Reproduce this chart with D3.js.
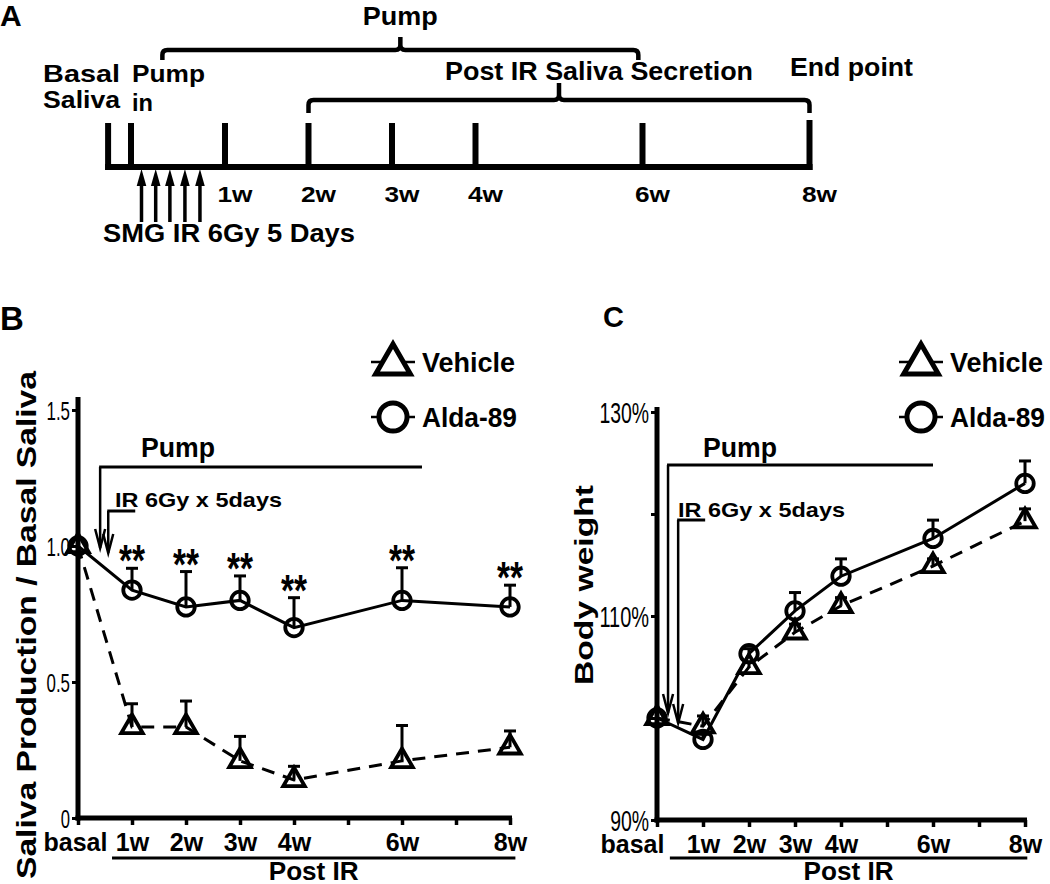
<!DOCTYPE html>
<html><head><meta charset="utf-8">
<script src="https://cdn.jsdelivr.net/npm/d3@7"></script>
<style>
body{margin:0;background:#fff}
svg text{font-family:"Liberation Sans",Arial,Helvetica,sans-serif;font-weight:bold;fill:#000}
svg text.narrow{font-family:"Liberation Sans Narrow","Arial Narrow","Liberation Sans",sans-serif;font-weight:normal}
</style></head><body>
<svg id="c" width="1050" height="884"></svg>
<script>
// ---------- data ----------
const weekLabels = ["basal","1w","2w","3w","4w","6w","8w"];
const weeks = [0,1,2,3,4,6,8];
const salivaVehicle    = [1.00,0.335,0.335,0.21,0.14,0.21,0.26];
const salivaVehicleErr = [0,0.085,0.095,0.09,0.05,0.13,0.06];
const salivaAlda       = [1.00,0.838,0.776,0.80,0.70,0.80,0.776];
const salivaAldaErr    = [0,0.08,0.13,0.09,0.11,0.12,0.08];
const salivaSig        = ["","**","**","**","**","**","**"];
const weightVehicle    = [100,99.2,105.0,108.4,111.0,114.9,119.3];
const weightVehicleErr = [0,1.0,0.5,0.8,0.8,0.7,1.2];
const weightAlda       = [100,97.9,106.3,110.5,113.9,117.6,123.0];
const weightAldaErr    = [0,0.5,0.5,1.8,1.7,1.8,2.2];
const salivaTicks = [0,0.5,1.0,1.5];
const salivaTickLabels = {0:"0",0.5:"0.5",1:"1.0",1.5:"1.5"};
const weightTicks = [90,100,110,120,130];
const weightTickLabels = {90:"90%",110:"110%",130:"130%"};
const seriesNames = ["Vehicle","Alda-89"];
// timeline (panel A), in weeks
const timelineEvents = [-0.4,-0.126,1,2,3,4,6,8];
const timelineLabels = ["","","1w","2w","3w","4w","6w","8w"];
const irDays = [0,0.17,0.34,0.52,0.7];

const svg = d3.select("#c");
function T(g, str, x, y, size, o={}) {
  const t = g.append("text").attr("x",x).attr("y",y).style("font-size",size+"px").text(str);
  if (o.anchor) t.attr("text-anchor",o.anchor);
  if (o.len) t.attr("textLength",o.len).attr("lengthAdjust","spacingAndGlyphs");
  if (o.transform) t.attr("transform",o.transform);
  if (o.cls) t.attr("class",o.cls);
  return t;
}
function L(g,x1,y1,x2,y2,w){return g.append("line").attr("x1",x1).attr("y1",y1).attr("x2",x2).attr("y2",y2).attr("stroke","#000").attr("stroke-width",w);}

// ---------- Panel A ----------
(function(){
  const g = svg.append("g");
  const xA = d3.scaleLinear().domain([0,1]).range([141.5,225]);
  const baseY = 167;
  T(g,"A",0,26,30);
  L(g, xA(timelineEvents[0])-3, baseY, xA(8)+3, baseY, 6);
  g.selectAll(".tk").data(timelineEvents).join("line")
    .attr("x1",d=>xA(d)).attr("x2",d=>xA(d))
    .attr("y1",d=>d===8?120:123).attr("y2",baseY+3)
    .attr("stroke","#000").attr("stroke-width",6);
  timelineEvents.forEach((d,i)=>{ if(timelineLabels[i]) T(g,timelineLabels[i],xA(d)+10,202,22,{anchor:"middle",len:35}); });
  // IR arrows
  irDays.forEach(d=>{
    const cx = xA(d);
    L(g,cx,222,cx,182,3.5);
    g.append("path").attr("d",`M${cx},169 L${cx+4.8},186 L${cx-4.8},186 Z`).attr("fill","#000");
  });
  T(g,"SMG IR 6Gy 5 Days",103,242,25,{len:252});
  T(g,"Basal",xA(timelineEvents[0])-65,82,24,{len:77});
  T(g,"Saliva",xA(timelineEvents[0])-65,108,24,{len:77});
  T(g,"Pump",xA(timelineEvents[1])+1,82,24,{len:73});
  T(g,"in",xA(timelineEvents[1])+1,111,24,{len:21});
  function bracket(x1,x2,y,yEnd,yNotch){
    const m=(x1+x2)/2, r=5;
    g.append("path").attr("d",
      `M${x1},${yEnd} L${x1},${y+r} Q${x1},${y} ${x1+r},${y} L${m-r},${y} Q${m},${y} ${m},${y-r} L${m},${yNotch} M${m},${y-r} Q${m},${y} ${m+r},${y} L${x2-r},${y} Q${x2},${y} ${x2},${y+r} L${x2},${yEnd}`)
      .attr("fill","none").attr("stroke","#000").attr("stroke-width",4.5);
  }
  bracket(xA(0.25),xA(5.95),50,60,37);
  T(g,"Pump",(xA(0.25)+xA(5.95))/2,25,26,{anchor:"middle",len:75});
  bracket(xA(2),xA(8),100,113,83);
  T(g,"Post IR Saliva Secretion",445,80,25,{len:308});
  T(g,"End point",790,76,25,{len:123});
})();

// ---------- Panels B and C ----------
function drawPanel(c){
  const g = svg.append("g");
  const x = d3.scaleLinear().domain([0,8]).range(c.xRange);
  const y = d3.scaleLinear().domain(c.yDomain).range(c.yRange);
  const x0 = x(0), yb = y(c.yDomain[0]);
  T(g,c.letter,c.letterPos[0],c.letterPos[1],c.letterSize);
  // y axis
  const ya = g.append("g").attr("transform",`translate(${x0},0)`)
    .call(d3.axisLeft(y).tickValues(c.yTicks).tickSize(6).tickSizeOuter(0).tickPadding(2)
      .tickFormat(d=>c.yLabels[d]||""));
  ya.select(".domain").remove();
  ya.selectAll(".tick line").attr("stroke-width",3);
  ya.selectAll(".tick text").attr("class","narrow").attr("dy","0.36em").style("font-size",c.yFont+"px")
    .each(function(d){
      const s=c.yLabels[d]; if(!s) return;
      const w=c.yFont*(s.replace(/[^0-9]/g,"").length*0.37+(s.includes(".")?0.2:0)+(s.includes("%")?0.6:0));
      d3.select(this).attr("textLength",w).attr("lengthAdjust","spacingAndGlyphs");
    });
  L(g,x0,yb+2.5,x0,c.yAxisTop,5);
  // x axis
  const xa = g.append("g").attr("transform",`translate(0,${yb})`)
    .call(d3.axisBottom(x).tickValues(d3.range(0,9)).tickSize(7).tickSizeOuter(0).tickPadding(8)
      .tickFormat(d=>{const i=weeks.indexOf(d);return i>=0?weekLabels[i]:"";}));
  xa.select(".domain").remove();
  xa.selectAll(".tick line").attr("stroke-width",3.5);
  xa.selectAll(".tick text").style("font-size","25px")
    .attr("dx",d=>d===0?c.basalDx:0);
  L(g,x0-2.5,yb,x(8)+2,yb,5);
  // Post IR
  L(g,x(c.postIR[0]),858,x(c.postIR[1]),858,3);
  T(g,"Post IR",(x(c.postIR[0])+x(c.postIR[1]))/2,880,25,{anchor:"middle",len:90});
  // axis title
  T(g,c.yTitle,0,0,c.yTitleSize,{anchor:"middle",len:c.yTitleLen,transform:`translate(${c.yTitlePos[0]},${c.yTitlePos[1]}) rotate(-90)`});
  // Pump / IR annotation
  function downArrow(xp,y1,y2){
    L(g,xp,y1,xp,y2,2.5);
    g.append("path").attr("d",`M${xp-5},${y2-19} L${xp},${y2} L${xp+5},${y2-19}`).attr("fill","none").attr("stroke","#000").attr("stroke-width",2.5);
  }
  L(g,x(c.pump[0])-1,c.pumpY,x(c.pump[1]),c.pumpY,3);
  downArrow(x(c.pump[0]),c.pumpY,c.pumpTip);
  T(g,"Pump",c.pumpTextX,457,27,{anchor:"middle",len:74});
  L(g,x(c.ir[0])-1,c.irY,x(c.ir[0])+27,c.irY,3);
  downArrow(x(c.ir[0]),c.irY,c.irTip);
  T(g,"IR 6Gy x 5days",c.irTextX,c.irTextY,21,{len:167});
  // series
  const series = [
    {vals:c.vehicle, err:c.vehicleErr, dash:"13,9", sym:d3.symbolTriangle},
    {vals:c.alda, err:c.aldaErr, dash:null, sym:d3.symbolCircle}
  ];
  series.forEach(s=>{
    const pts = weeks.map((w,i)=>[x(w),y(s.vals[i])]);
    const p = g.append("path").attr("d",d3.line()(pts)).attr("fill","none").attr("stroke","#000").attr("stroke-width",3);
    if(s.dash) p.attr("stroke-dasharray",s.dash);
  });
  series.forEach(s=>{
    weeks.forEach((w,i)=>{
      if(!(s.err[i]>0)) return;
      const xt=x(w), yt=y(s.vals[i]+s.err[i]);
      L(g,xt,y(s.vals[i]),xt,yt,3);
      L(g,xt-6,yt,xt+6,yt,3);
    });
    const isTri = s.sym===d3.symbolTriangle;
    g.selectAll(null).data(weeks).join("path")
      .attr("transform",(w,i)=>`translate(${x(w)},${y(s.vals[i])})`)
      .attr("d",d3.symbol().type(s.sym).size(isTri?200:240))
      .attr("fill","none").attr("stroke","#000").attr("stroke-width",3.8);
  });
  if(c.sig){
    weeks.forEach((w,i)=>{
      if(!c.sig[i]) return;
      T(g,c.sig[i],x(w),y(c.alda[i]+c.aldaErr[i])+8,44,{anchor:"middle",len:26});
    });
  }
  // legend
  [d3.symbolTriangle,d3.symbolCircle].forEach((sym,k)=>{
    const ly = c.legendY[k];
    L(g,c.legendX-22,ly,c.legendX+22,ly,2.5);
    g.append("path").attr("transform",`translate(${c.legendX},${ly+(k===0?2:0)})`)
      .attr("d",d3.symbol().type(sym).size(k===0?520:620))
      .attr("fill","#fff").attr("stroke","#000").attr("stroke-width",5);
    T(g,seriesNames[k],c.legendX+29,ly+10,28,{len:k===0?93:95});
  });
}

drawPanel({
  letter:"B", letterPos:[0,330], letterSize:33,
  xRange:[78,510], yDomain:[0,1.5], yRange:[818,410], yAxisTop:397,
  yTicks:salivaTicks, yLabels:salivaTickLabels, yFont:25, basalDx:-3,
  postIR:[0.63,8.1],
  yTitle:"Saliva Production / Basal Saliva", yTitleSize:27, yTitleLen:508, yTitlePos:[36,625],
  pump:[0.41,6.37], pumpY:467, pumpTip:548, pumpTextX:178,
  ir:[0.56], irY:511, irTip:553, irTextX:115, irTextY:507,
  vehicle:salivaVehicle, vehicleErr:salivaVehicleErr, alda:salivaAlda, aldaErr:salivaAldaErr,
  sig:salivaSig, legendX:393, legendY:[362,417]
});
drawPanel({
  letter:"C", letterPos:[603,327], letterSize:29,
  xRange:[657,1025], yDomain:[90,130], yRange:[820,412], yAxisTop:407,
  yTicks:weightTicks, yLabels:weightTickLabels, yFont:29, basalDx:-25,
  postIR:[0.28,8.05],
  yTitle:"Body weight", yTitleSize:26, yTitleLen:200, yTitlePos:[593,585],
  pump:[0.24,6.0], pumpY:465, pumpTip:713, pumpTextX:740,
  ir:[0.46], irY:520, irTip:723, irTextX:678, irTextY:517,
  vehicle:weightVehicle, vehicleErr:weightVehicleErr, alda:weightAlda, aldaErr:weightAldaErr,
  sig:null, legendX:921, legendY:[362,417]
});
</script>
</body></html>
